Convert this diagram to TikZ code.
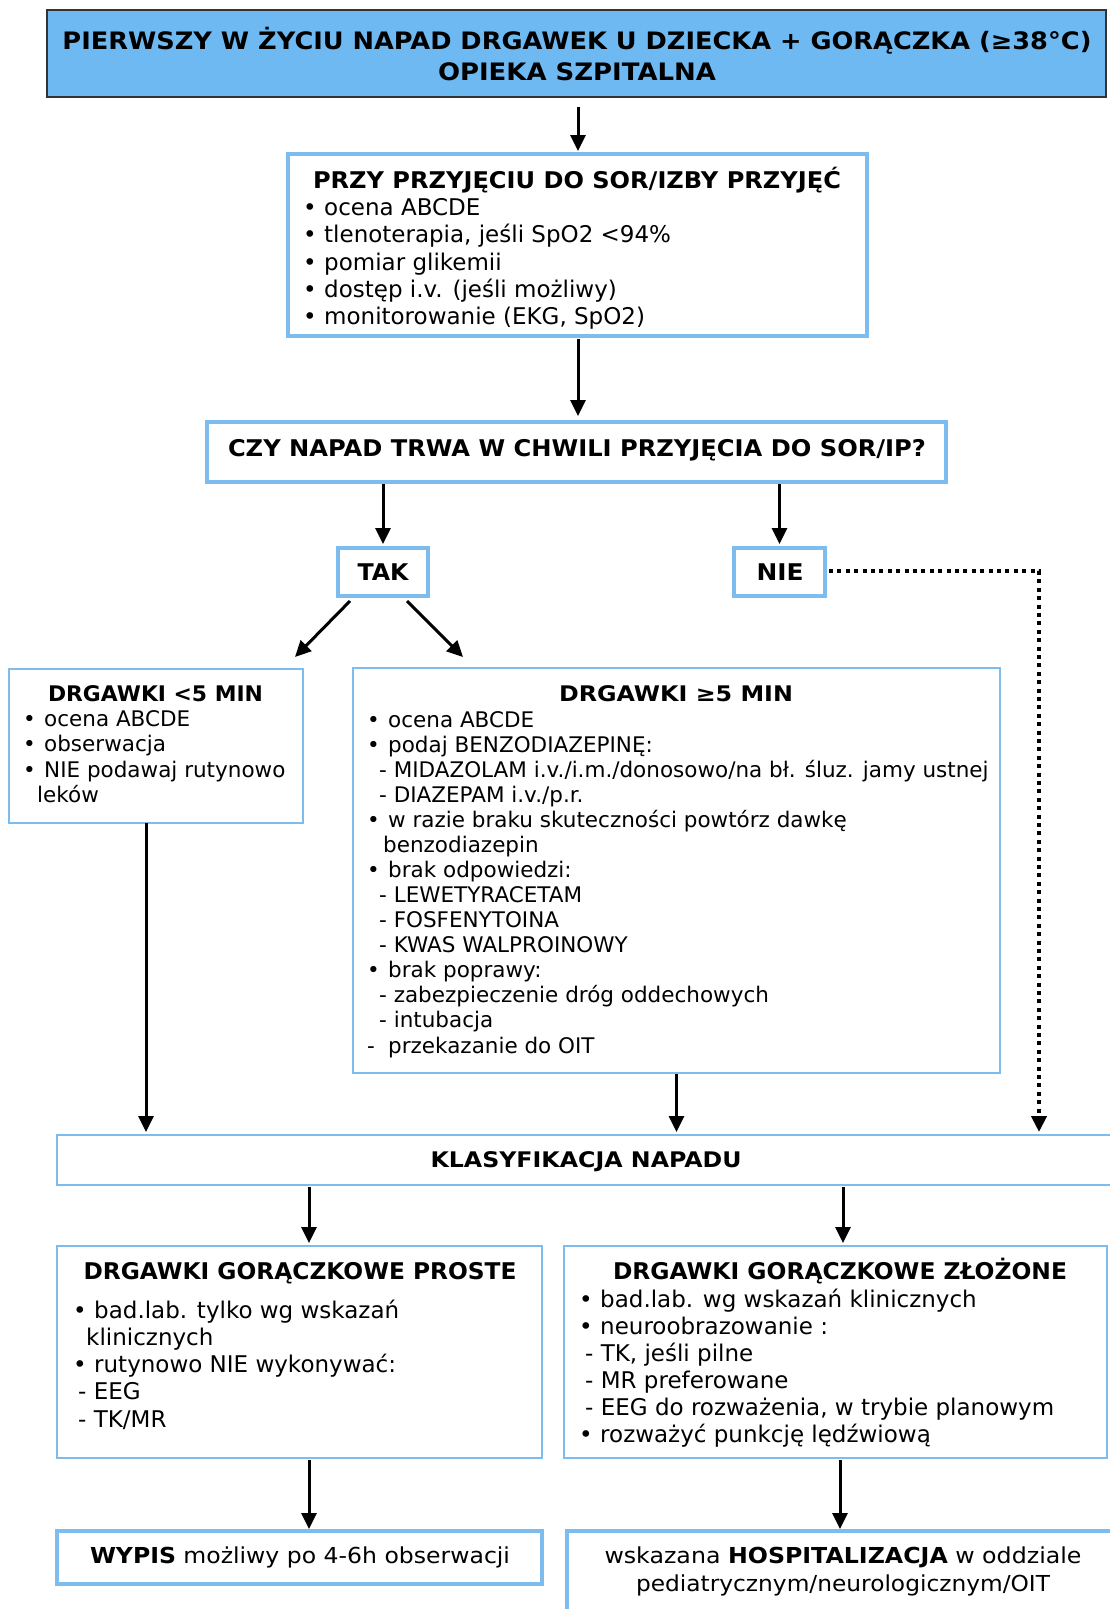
\documentclass[tikz,border=0pt]{standalone}
\usepackage{fontspec}
\setmainfont{DejaVu Sans}
\usepackage{graphicx}
\usetikzlibrary{arrows.meta}
\definecolor{lblue}{HTML}{7CBCEF}
\definecolor{tfill}{HTML}{6FB9F2}
\newcommand\fsz[2]{\fontsize{#1}{#2}\selectfont}
\newcommand\bu{\makebox[19pt][l]{\hspace*{-2pt}•}}
\newsavebox\fitbox
\newlength\fitlen
\newcommand\fitw[2]{\sbox\fitbox{#2}\setlength\fitlen{\wd\fitbox}\pgfmathsetmacro\fitr{#1/\fitlen}\scalebox{\fitr}[1]{\usebox\fitbox}}
\begin{document}
\begin{tikzpicture}[x=1pt,y=-1pt,
  box/.style={draw=lblue, inner sep=0pt, outer sep=0pt},
  arr/.style={line width=3pt, -{Triangle[width=15pt,length=16pt]}},
  dotarr/.style={line width=4pt, dash pattern=on 4pt off 4.4pt, -{Triangle[width=15pt,length=16pt]}},
  lbl/.style={inner sep=0pt, anchor=base},
  lst/.style={inner sep=0pt, anchor=base west}]
\useasboundingbox (0,0) rectangle (1110,1609);
\clip (0,0) rectangle (1110,1609);
\fill[white] (0,0) rectangle (1110,1609);
% boxes
\node[draw=black!80, fill=tfill, line width=2pt, inner sep=0pt, minimum width=1059pt, minimum height=87pt] (top) at (576.5,53.5) {};
\node[box, line width=3.5pt, minimum width=579pt, minimum height=182pt] (b2) at (577.5,245) {};
\node[box, line width=3.5pt, minimum width=739pt, minimum height=60pt] (b3) at (576.5,452) {};
\node[box, line width=4pt, minimum width=90pt, minimum height=48pt] (tak) at (383,572) {};
\node[box, line width=4pt, minimum width=91pt, minimum height=48pt] (nie) at (779.5,572) {};
\node[box, line width=2pt, minimum width=294pt, minimum height=154pt] (lt5) at (156,746) {};
\node[box, line width=2pt, minimum width=647pt, minimum height=405pt] (ge5) at (676.5,870.5) {};
\node[box, line width=2pt, minimum width=1058pt, minimum height=50pt] (kl) at (586,1160) {};
\node[box, line width=2pt, minimum width=485pt, minimum height=212pt] (pr) at (299.5,1352) {};
\node[box, line width=2pt, minimum width=543pt, minimum height=212pt] (zl) at (835.5,1352) {};
\node[box, line width=3.5pt, minimum width=485pt, minimum height=53pt] (wy) at (299.5,1557.5) {};
\node[box, line width=3.5pt, minimum width=551pt, minimum height=84pt] (ho) at (842.5,1573) {};
% texts
\node[lbl] (t1a) at (577,49) {\fsz{24}{28}\bfseries\fitw{1029pt}{PIERWSZY W ŻYCIU NAPAD DRGAWEK U DZIECKA + GORĄCZKA (≥38°C)}};
\node[lbl] (t1b) at (577,80) {\fsz{24}{28}\bfseries\fitw{278pt}{OPIEKA SZPITALNA}};
\node[lbl] (t2) at (577,188.5) {\fsz{23}{27}\bfseries\fitw{528pt}{PRZY PRZYJĘCIU DO SOR/IZBY PRZYJĘĆ}};
\node[lst] (l2) at (305,215.5) {\parbox[t]{540pt}{\fsz{23}{27.25}\bu ocena ABCDE\\\bu tlenoterapia, jeśli SpO2 <94\%\\\bu pomiar glikemii\\\bu dostęp i.v. (jeśli możliwy)\\\bu monitorowanie (EKG, SpO2)}};
\node[lbl] (t3) at (577,456.5) {\fsz{23}{27}\bfseries\fitw{698pt}{CZY NAPAD TRWA W CHWILI PRZYJĘCIA DO SOR/IP?}};
\node[lbl] (ttak) at (383,580.5) {\fsz{23}{27}\bfseries\fitw{51pt}{TAK}};
\node[lbl] (tnie) at (780,580.5) {\fsz{23}{27}\bfseries\fitw{47pt}{NIE}};
\node[lbl] (t4) at (155.5,701) {\fsz{21.5}{25}\bfseries\fitw{215pt}{DRGAWKI <5 MIN}};
\node[lst] (l4) at (25,726.5) {\parbox[t]{280pt}{\fsz{21.5}{25.4}\bu ocena ABCDE\\\bu obserwacja\\\bu NIE podawaj rutynowo\\\hspace*{12pt}leków}};
\node[lbl] (t5) at (676,701) {\fsz{21.5}{25}\bfseries\fitw{234pt}{DRGAWKI ≥5 MIN}};
\node[lst] (l5) at (369,727) {\parbox[t]{630pt}{\fsz{21.5}{25.08}\bu ocena ABCDE\\
\bu podaj BENZODIAZEPINĘ:\\
\hspace*{10pt}- MIDAZOLAM i.v./i.m./donosowo/na bł. śluz. jamy ustnej\\
\hspace*{10pt}- DIAZEPAM i.v./p.r.\\
\bu w razie braku skuteczności powtórz dawkę\\
\hspace*{14pt}benzodiazepin\\
\bu brak odpowiedzi:\\
\hspace*{10pt}- LEWETYRACETAM\\
\hspace*{10pt}- FOSFENYTOINA\\
\hspace*{10pt}- KWAS WALPROINOWY\\
\bu brak poprawy:\\
\hspace*{10pt}- zabezpieczenie dróg oddechowych\\
\hspace*{10pt}- intubacja\\
\hspace*{-2pt}\makebox[21pt][l]{-}przekazanie do OIT}};
\node[lbl] (tkl) at (586,1167) {\fsz{21.5}{25}\bfseries\fitw{311pt}{KLASYFIKACJA NAPADU}};
\node[lbl] (tpr) at (300,1279.5) {\fsz{23}{27}\bfseries\fitw{433pt}{DRGAWKI GORĄCZKOWE PROSTE}};
\node[lst] (lpr) at (75,1318) {\parbox[t]{460pt}{\fsz{23}{27.25}\bu bad.lab. tylko wg wskazań\\\hspace*{11pt}klinicznych\\\bu rutynowo NIE wykonywać:\\\hspace*{3pt}- EEG\\\hspace*{3pt}- TK/MR}};
\node[lbl] (tzl) at (840,1279.5) {\fsz{23}{27}\bfseries\fitw{454pt}{DRGAWKI GORĄCZKOWE ZŁOŻONE}};
\node[lst] (lzl) at (581,1307) {\parbox[t]{520pt}{\fsz{23}{27}\bu bad.lab. wg wskazań klinicznych\\\bu neuroobrazowanie :\\\hspace*{4pt}- TK, jeśli pilne\\\hspace*{4pt}- MR preferowane\\\hspace*{4pt}- EEG do rozważenia, w trybie planowym\\\bu rozważyć punkcję lędźwiową}};
\node[lbl] (twy) at (300,1563) {\fsz{22}{26}\fitw{420pt}{\textbf{WYPIS} możliwy po 4-6h obserwacji}};
\node[lbl] (tho1) at (843,1563) {\fsz{22}{26}\fitw{477pt}{wskazana \textbf{HOSPITALIZACJA} w oddziale}};
\node[lbl] (tho2) at (843,1591) {\fsz{22}{26}\fitw{414pt}{pediatrycznym/neurologicznym/OIT}};
% connectors
\coordinate (c0) at (578,0);
\draw[arr, shorten <=9pt, shorten >=3pt] (c0 |- top.south) -- (c0 |- b2.north);
\draw[arr, shorten <=3pt, shorten >=6pt] (c0 |- b2.south) -- (c0 |- b3.north);
\draw[arr, shorten <=2pt, shorten >=4pt] (b3.south -| tak.north) -- (tak.north);
\draw[arr, shorten <=2pt, shorten >=4pt] (b3.south -| nie.north) -- (nie.north);
\draw[arr] ([shift={(-33,29)}]tak.center) -- ([shift={(-8,-12)}]lt5.north east);
\draw[arr] ([shift={(24,29)}]tak.center) -- ([shift={(110,-11)}]ge5.north west);
\coordinate (c1) at ([shift={(-10,0)}]lt5.south);
\draw[arr, shorten >=3pt] (c1) -- (c1 |- kl.north);
\draw[arr, shorten <=1pt, shorten >=3pt] (ge5.south) -- (ge5.south |- kl.north);
\coordinate (dk) at (1039,571);
\draw[dotarr, shorten >=3pt] ([shift={(4,-1)}]nie.east) -- (dk) -- (dk |- kl.north);
\coordinate (c2) at ([shift={(9.5,0)}]pr.north);
\draw[arr, shorten <=2pt, shorten >=3pt] (c2 |- kl.south) -- (c2);
\coordinate (c3) at ([shift={(7.5,0)}]zl.north);
\draw[arr, shorten <=2pt, shorten >=3pt] (c3 |- kl.south) -- (c3);
\coordinate (c4) at ([shift={(9.5,0)}]wy.north);
\draw[arr, shorten <=2pt, shorten >=2pt] (c4 |- pr.south) -- (c4);
\coordinate (c5) at ([shift={(-2.5,0)}]ho.north);
\draw[arr, shorten <=2pt, shorten >=2pt] (c5 |- zl.south) -- (c5);
\end{tikzpicture}
\end{document}
